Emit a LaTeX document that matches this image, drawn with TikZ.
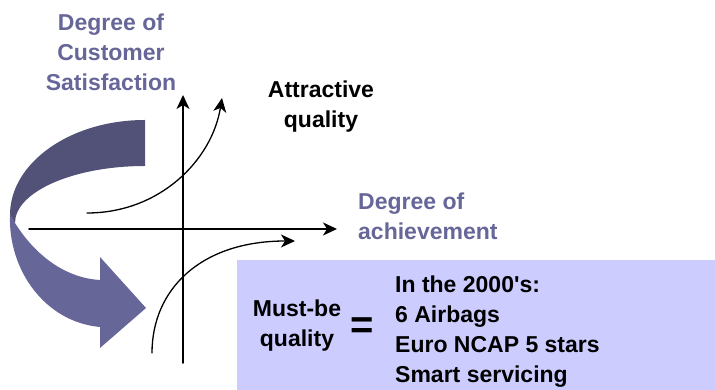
\documentclass[tikz,border=0pt]{standalone}
\usepackage{fontspec}
\setmainfont{Liberation Sans}
\usetikzlibrary{arrows.meta}
\definecolor{lav}{HTML}{CCCCFF}
\definecolor{slate}{HTML}{666699}
\definecolor{slatedark}{HTML}{525279}
\begin{document}
\begin{tikzpicture}[x=1pt, y=1pt, line join=round, line cap=round,
    >={Stealth[length=14pt,width=13pt,inset=4pt]},
    lbl/.style={font=\fontsize{23}{30}\selectfont\bfseries, inner sep=0pt},
    axis/.style={->, line width=1.6pt},
    curve/.style={->, line width=1.3pt}]
	\useasboundingbox (0,0) rectangle (715,390);
	% box of the must-be quality
	\fill[lav] (237,0) rectangle (715,130);
	% curved arrow (lower part, then upper part)
	\fill[slate] (15,167) -- (10,175) .. controls (8,120) and (45,68) .. (100,63)
		-- (100,42) -- (146,82) -- (100,133) -- (100,110)
		.. controls (65,112) and (35,135) .. (15,167) -- cycle;
	\fill[slatedark] (145,270) -- (145,224) .. controls (73,224) and (15,198) .. (15,167)
		-- (10,175) .. controls (10,227) and (70,270) .. (145,270) -- cycle;
	% axes
	\coordinate (yb) at (183,27);  \coordinate (yt) at (183,295);
	\coordinate (xl) at (29,161);  \coordinate (xr) at (337,161);
	\draw[axis] (yb) -- (yt);
	\draw[axis] (xl) -- (xr);
	% curves
	\coordinate (ab) at (87,177);  \coordinate (at) at (222,292);
	\coordinate (mb) at (152,37);  \coordinate (mt) at (295,149);
	\draw[curve] (ab) .. controls (160,177) and (212,230) .. (at);
	\draw[curve] (mb) .. controls (152,100) and (200,149) .. (mt);
	% texts
	\node[lbl, slate, align=center] (satisf) at (111,338) {Degree of\\Customer\\Satisfaction};
	\node[lbl, slate, align=left, anchor=west] (achiev) at (358,174) {Degree of\\achievement};
	\node[lbl, align=center] (attract) at (321,283) {Attractive\\quality};
	\node[lbl, align=center] (mustbe) at (297,64) {Must-be\\quality};
	\node[inner sep=0pt, font=\fontsize{40}{40}\selectfont\bfseries] (eq) at (362,62) {=};
	\node[lbl, align=left, anchor=west] (list) at (395,58)
		{In the 2000\textquotesingle s:\\6 Airbags\\Euro NCAP 5 stars\\Smart servicing};
\end{tikzpicture}
\end{document}
